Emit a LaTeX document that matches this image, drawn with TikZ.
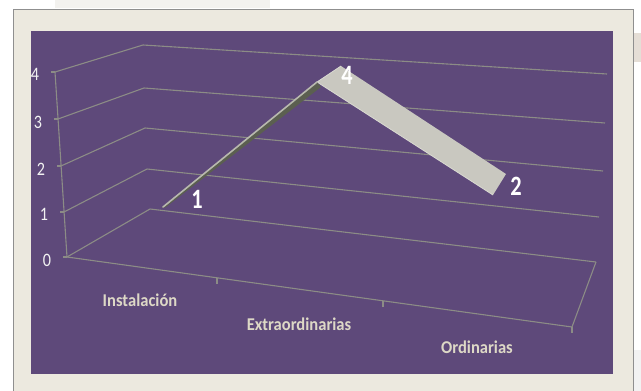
\documentclass[tikz,border=0pt]{standalone}
\usepackage{fontspec}
\setmainfont{Carlito}
\usepackage{graphicx}
\definecolor{bgbeige}{HTML}{ECE9DF}
\definecolor{plotpurple}{HTML}{5E497A}
\definecolor{gridc}{HTML}{8C8C86}
\definecolor{axtext}{HTML}{F2F2F2}
\definecolor{cattext}{HTML}{DDD8C6}
\definecolor{bandc}{HTML}{C9C8C0}
\definecolor{bandedge}{HTML}{DADAD2}
\definecolor{darkface}{HTML}{5B5F50}
\definecolor{lightedge}{HTML}{B8B9AE}
\definecolor{framec}{HTML}{8F8F8F}
\definecolor{sideband}{HTML}{E5DED6}
\definecolor{topfade}{HTML}{F3F2EF}
\tikzset{
  gridln/.style={draw=gridc, line width=1.1pt},
  axlab/.style={text=axtext, font=\fontsize{19}{19}\selectfont, anchor=base, inner sep=0pt},
  catlab/.style={text=cattext, font=\bfseries\fontsize{18}{18}\selectfont, anchor=base, inner sep=0pt},
  datlab/.style={text=white, font=\bfseries\fontsize{28}{28}\selectfont, anchor=base, inner sep=0pt}
}
\newcommand\narrow[2]{\scalebox{#1}[1]{#2}}
\begin{document}
\begin{tikzpicture}[x=1pt,y=-1pt]
\useasboundingbox (0,0) rectangle (641,391);
% outside decorations
\fill[white] (0,0) rectangle (641,391);
\fill[topfade] (55,0) rectangle (270,8);
\fill[sideband] (634,33) rectangle (641,62);
\fill[gray!10] (634,350) rectangle (641,391);
% frame
\fill[bgbeige] (13,9) rectangle (633,391);
\draw[framec, line width=1pt] (13,391) -- (13,9) -- (633,9) -- (633,391);
% plot area
\fill[plotpurple] (31,31) rectangle (613,374);
% y axis and ticks
\draw[gridln] (55,72) -- (67,257);
\foreach \x/\y in {55/72, 58/119, 61/166, 64/212, 67/257}
  \draw[gridln] (\x-4,\y) -- (\x,\y);
% gridlines (left wall + back wall)
\draw[gridln] (55,72) -- (143,45) -- (607,74);
\draw[gridln] (58,119) -- (144,88) -- (605,123);
\draw[gridln] (61,166) -- (145,128) -- (603,171);
\draw[gridln] (64,212) -- (147,169) -- (599,217);
\draw[gridln] (67,257) -- (150,209) -- (596,262);
% floor
\draw[gridln] (67,257) -- (572,327) -- (596,262);
\draw[gridln] (217,278) -- (217,284);
\draw[gridln] (383,301) -- (383,307);
\draw[gridln] (572,327) -- (572,333);
% axis labels
\node[axlab] (y4) at (35,80) {\narrow{0.85}{4}};
\node[axlab] (y3) at (38,128) {\narrow{0.85}{3}};
\node[axlab] (y2) at (41,175) {\narrow{0.85}{2}};
\node[axlab] (y1) at (44,220) {\narrow{0.85}{1}};
\node[axlab] (y0) at (47,266) {\narrow{0.85}{0}};
% category labels
\node[catlab] (c1) at (140,306) {\narrow{0.92}{Instalación}};
\node[catlab] (c2) at (299,330) {\narrow{0.92}{Extraordinarias}};
\node[catlab] (c3) at (477,353) {\narrow{0.92}{Ordinarias}};
% ribbon: descending band
\fill[bandc] (317,82) -- (341,66) -- (506,174) -- (493,195) -- cycle;
\draw[bandedge, line width=0.8pt] (493,195) -- (317,82) -- (341,66);
% ribbon: ascending segment (seen edge-on)
\fill[darkface] (162,208) -- (317,82) -- (321,87) -- (166,207) -- cycle;
\draw[lightedge, line width=1.6pt, line cap=round] (163,207) -- (317,82);
% data labels
\node[datlab] (d1) at (197,208) {\narrow{0.8}{1}};
\node[datlab] (d4) at (347,84) {\narrow{0.8}{4}};
\node[datlab] (d2) at (516,195) {\narrow{0.8}{2}};
\end{tikzpicture}
\end{document}
